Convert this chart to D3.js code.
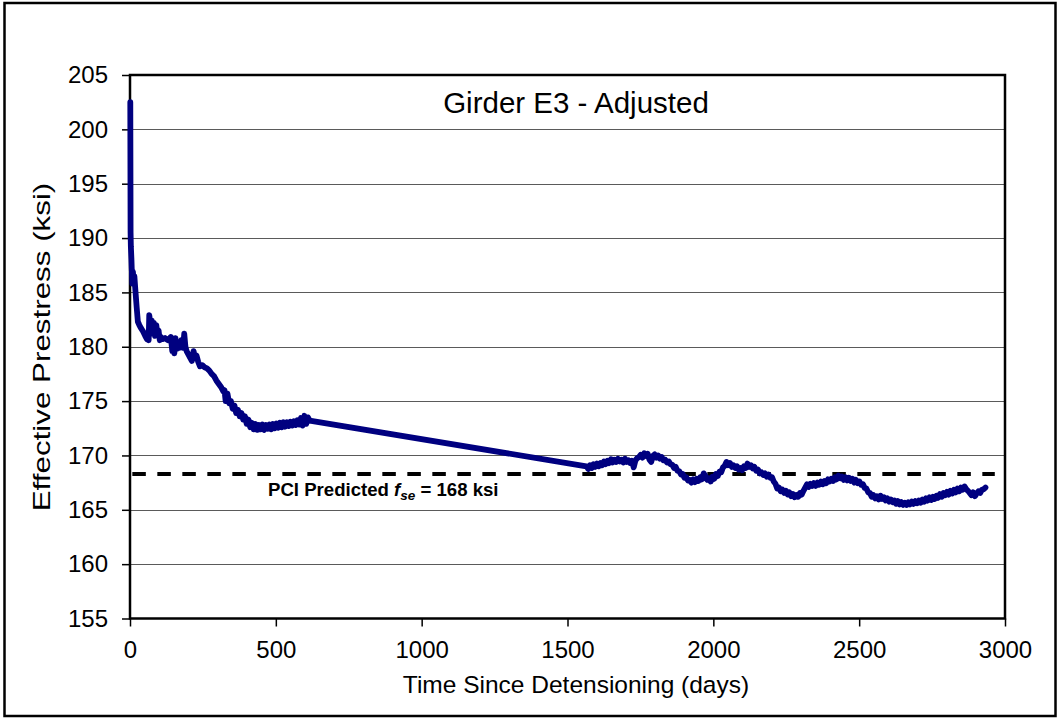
<!DOCTYPE html>
<html>
<head>
<meta charset="utf-8">
<script src="https://cdn.jsdelivr.net/npm/d3@7"></script>
<style>
  html, body { margin: 0; padding: 0; background: #fff; }
  svg { display: block; font-family: "Liberation Sans", Arial, Helvetica, sans-serif; }
</style>
</head>
<body>
<svg id="chart" width="1061" height="719"></svg>
<script>
// Measured effective prestress in the strands of girder E3 (adjusted readings)
const days = [
  1, 2, 3, 5, 6, 8, 10, 12, 15, 19, 23, 27, 32, 38, 45, 52, 58, 62, 64, 66,
  69, 72, 75, 78, 82, 86, 90, 94, 98, 102, 106, 112, 120, 130, 140, 145, 148, 152, 156, 160,
  164, 170, 176, 182, 186, 190, 194, 200, 206, 212, 218, 222, 228, 234, 240, 248, 256, 264, 272, 280,
  288, 296, 304, 312, 320, 324,
  328, 334, 340, 346, 352, 358, 364, 370, 376, 382,
  388, 394, 400, 406, 412, 418, 424, 430, 436, 442,
  448, 454, 460, 466, 472, 478, 484, 490, 496, 502,
  508, 514, 520, 526, 532, 538, 544, 550, 556, 562,
  568, 574, 580, 586, 592, 598, 604, 610, 616,
  1565, 1571, 1577, 1583, 1589, 1595, 1601, 1607, 1613, 1619,
  1625, 1631, 1637, 1643, 1649, 1655, 1661, 1667, 1673, 1679,
  1685, 1691, 1697, 1703, 1709, 1715, 1721, 1727, 1733, 1739,
  1745, 1751, 1757, 1763, 1769, 1775, 1781, 1787, 1793, 1799,
  1805, 1811, 1817, 1823, 1829, 1835, 1841, 1847, 1853, 1859,
  1865, 1871, 1877, 1883, 1889, 1895, 1901, 1907, 1913, 1919,
  1925, 1931, 1937, 1943, 1949, 1955, 1961, 1967, 1973, 1979,
  1985, 1991, 1997, 2003, 2009, 2015, 2021, 2027, 2033, 2039,
  2045, 2051, 2057, 2063, 2069, 2075, 2081, 2087, 2093, 2099,
  2105, 2111, 2117, 2123, 2129, 2135, 2141, 2147, 2153, 2159,
  2165, 2171, 2177, 2183, 2189, 2195, 2201, 2207, 2213, 2219,
  2225, 2231, 2237, 2243, 2249, 2255, 2261, 2267, 2273, 2279,
  2285, 2291, 2297, 2303, 2309, 2315, 2321, 2327, 2333, 2339,
  2345, 2351, 2357, 2363, 2369, 2375, 2381, 2387, 2393, 2399,
  2405, 2411, 2417, 2423, 2429, 2435, 2441, 2447, 2453, 2459,
  2465, 2471, 2477, 2483, 2489, 2495, 2501, 2507, 2513, 2519,
  2525, 2531, 2537, 2543, 2549, 2555, 2561, 2567, 2573, 2579,
  2585, 2591, 2597, 2603, 2609, 2615, 2621, 2627, 2633, 2639,
  2645, 2651, 2657, 2663, 2669, 2675, 2681, 2687, 2693, 2699,
  2705, 2711, 2717, 2723, 2729, 2735, 2741, 2747, 2753, 2759,
  2765, 2771, 2777, 2783, 2789, 2795, 2801, 2807, 2813, 2819,
  2825, 2831, 2837, 2843, 2849, 2855, 2861, 2867, 2873, 2879,
  2885, 2891, 2897, 2903, 2909, 2915, 2921, 2927, 2933
];
const prestress = [
  202.5, 190.5, 189.2, 188.0, 187.2, 185.8, 186.9, 186.2, 186.5, 185.0, 183.6, 182.3, 182.0, 181.7, 181.4, 181.0, 180.7, 180.9, 180.6, 182.9,
  182.3, 181.4, 182.4, 181.2, 182.2, 181.0, 182.0, 181.2, 181.5, 180.6, 180.9, 180.7, 180.8, 180.6, 180.9, 179.6, 180.6, 179.4, 180.8, 179.8,
  180.4, 179.9, 180.6, 179.9, 181.2, 180.0, 179.6, 179.3, 179.0, 178.7, 179.6, 179.1, 179.2, 178.6, 178.2, 178.3, 178.1, 178.0, 177.8, 177.5,
  177.3, 176.9, 176.6, 176.3, 175.9, 176.0,
  175.0, 175.7, 174.8, 175.0, 174.3, 174.6, 173.9, 174.2, 173.6, 173.9,
  173.3, 173.6, 172.9, 173.3, 172.6, 173.0, 172.4, 172.9, 172.35, 172.8,
  172.4, 172.85, 172.35, 172.8, 172.45, 172.85, 172.4, 172.9, 172.5, 172.95,
  172.55, 173.0, 172.6, 173.05, 172.65, 173.05, 172.7, 173.1, 172.75, 173.15,
  172.8, 173.25, 172.85, 173.45, 172.75, 173.65, 172.9, 173.5, 173.2,
  169.0, 168.75, 169.1, 168.85, 169.2, 168.95, 169.25, 169.0, 169.3, 169.1,
  169.45, 169.2, 169.5, 169.3, 169.65, 169.35, 169.6, 169.4, 169.7, 169.45,
  169.6, 169.35, 169.7, 169.4, 169.55, 169.3, 169.5, 168.9, 169.55, 169.75,
  169.85, 170.05, 169.8, 170.2, 169.95, 170.15, 169.6, 169.4, 169.95, 170.1,
  169.8, 170.0, 169.7, 169.85, 169.55, 169.6, 169.35, 169.45, 169.2, 169.15,
  168.85, 168.95, 168.6, 168.55, 168.25, 168.3, 167.95, 168.0, 167.7, 167.75,
  167.5, 167.8, 167.55, 167.85, 167.65, 168.0, 167.8, 168.35, 168.1, 167.75,
  167.9, 167.6, 168.05, 167.85, 168.3, 168.1, 168.5, 168.45, 168.9, 169.05,
  169.4, 169.1, 169.3, 168.95, 169.1, 168.85, 169.0, 168.7, 168.85, 168.65,
  169.0, 168.85, 169.25, 168.95, 169.1, 168.8, 168.95, 168.6, 168.7, 168.35,
  168.45, 168.2, 168.35, 168.05, 168.25, 167.95, 168.0, 167.6, 167.4, 166.95,
  167.05, 166.7, 166.85, 166.55, 166.75, 166.4, 166.6, 166.25, 166.45, 166.15,
  166.35, 166.2, 166.55, 166.4, 166.75, 167.05, 167.35, 167.1, 167.4, 167.2,
  167.45, 167.2, 167.5, 167.3, 167.6, 167.35, 167.65, 167.45, 167.8, 167.6,
  167.85, 167.65, 168.0, 167.8, 168.15, 167.9, 168.05, 167.75, 168.0, 167.7,
  167.95, 167.65, 167.85, 167.5, 167.75, 167.45, 167.6, 167.3, 167.35, 167.0,
  166.95, 166.6, 166.55, 166.2, 166.35, 166.05, 166.25, 165.95, 166.3, 166.0,
  166.15, 165.85, 166.05, 165.75, 165.95, 165.7, 165.85, 165.55, 165.8, 165.5,
  165.7, 165.45, 165.65, 165.45, 165.7, 165.5, 165.75, 165.55, 165.8, 165.6,
  165.85, 165.65, 165.95, 165.75, 166.05, 165.85, 166.15, 165.9, 166.2, 166.0,
  166.3, 166.1, 166.45, 166.2, 166.55, 166.35, 166.65, 166.4, 166.75, 166.5,
  166.85, 166.6, 166.95, 166.7, 167.05, 166.85, 167.15, 166.9, 166.75, 166.55,
  166.35, 166.6, 166.25, 166.5, 166.7, 166.55, 166.85, 166.9, 167.05
];

// PCI predicted effective prestress (ksi)
const pciPredicted = 168.3;

const xTicks = [0, 500, 1000, 1500, 2000, 2500, 3000];
const yTicks = [155, 160, 165, 170, 175, 180, 185, 190, 195, 200, 205];

const svg = d3.select("#chart");

const x = d3.scaleLinear().domain([0, 3000]).range([130, 1005]);
const y = d3.scaleLinear().domain([155, 205]).range([618.5, 75]);

// outer chart frame
svg.append("rect")
  .attr("x", 4.5).attr("y", 3).attr("width", 1051).attr("height", 713)
  .attr("fill", "#fff").attr("stroke", "#000").attr("stroke-width", 2.5);

// horizontal gridlines
svg.append("g")
  .selectAll("line")
  .data(yTicks.slice(1, -1))
  .join("line")
  .attr("x1", x(0)).attr("x2", x(3000))
  .attr("y1", d => Math.round(y(d)) + 0.5).attr("y2", d => Math.round(y(d)) + 0.5)
  .attr("stroke", "#5a5a5a").attr("stroke-width", 1);

// y axis
const yAxis = svg.append("g")
  .attr("transform", `translate(${x(0)},0)`)
  .call(d3.axisLeft(y).tickValues(yTicks).tickSize(8).tickPadding(14).tickFormat(d3.format("d")));
// x axis
const xAxis = svg.append("g")
  .attr("transform", `translate(0,${y(155)})`)
  .call(d3.axisBottom(x).tickValues(xTicks).tickSize(8).tickPadding(14).tickFormat(d3.format("d")));

[yAxis, xAxis].forEach(g => {
  g.select(".domain").remove();
  g.selectAll(".tick line").attr("stroke", "#000").attr("stroke-width", 1.5);
  g.selectAll(".tick text").attr("fill", "#000").style("font-size", "24px")
    .style("font-family", "'Liberation Sans', Arial, sans-serif");
});

// plot area border
svg.append("rect")
  .attr("x", x(0)).attr("y", y(205))
  .attr("width", x(3000) - x(0)).attr("height", y(155) - y(205))
  .attr("fill", "none").attr("stroke", "#000").attr("stroke-width", 2.5);

// predicted line
svg.append("line")
  .attr("x1", x(8)).attr("x2", x(2965))
  .attr("y1", y(pciPredicted)).attr("y2", y(pciPredicted))
  .attr("stroke", "#000").attr("stroke-width", 4)
  .attr("stroke-dasharray", "13.5,11.5");

// measured series
const series = days.map((d, i) => [d, prestress[i]]);
svg.append("path")
  .datum(series)
  .attr("fill", "none")
  .attr("stroke", "#000080")
  .attr("stroke-width", 5.8)
  .attr("stroke-linejoin", "round")
  .attr("stroke-linecap", "round")
  .attr("d", d3.line().x(d => x(d[0])).y(d => y(d[1])));

// predicted label
const lbl = svg.append("text")
  .attr("x", 268).attr("y", 496)
  .attr("font-weight", "bold").attr("font-size", 18.6).attr("fill", "#000");
lbl.append("tspan").text("PCI Predicted ");
lbl.append("tspan").attr("font-style", "italic").text("f");
lbl.append("tspan").attr("font-style", "italic").attr("font-size", 13.5).attr("dy", 4).text("se");
lbl.append("tspan").attr("dy", -4).text(` = ${d3.format(".0f")(pciPredicted)} ksi`);

// title
svg.append("text")
  .attr("x", 576).attr("y", 113)
  .attr("text-anchor", "middle").attr("font-size", 29.5).attr("fill", "#000")
  .text("Girder E3 - Adjusted");

// axis titles
svg.append("text")
  .attr("x", 576).attr("y", 693)
  .attr("text-anchor", "middle").attr("font-size", 24.5).attr("fill", "#000")
  .text("Time Since Detensioning (days)");

svg.append("text")
  .attr("transform", `translate(50,347) rotate(-90) scale(1.28,1)`)
  .attr("text-anchor", "middle").attr("font-size", 24.5).attr("fill", "#000")
  .text("Effective Prestress (ksi)");
</script>
</body>
</html>
